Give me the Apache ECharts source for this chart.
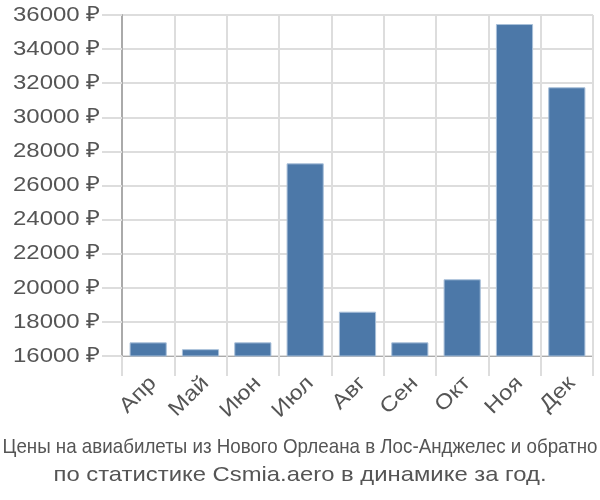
<!DOCTYPE html>
<html><head><meta charset="utf-8">
<script src="https://cdn.jsdelivr.net/npm/echarts@6/dist/echarts.min.js"></script>
<style>html,body{margin:0;padding:0;background:#fff}#c{width:600px;height:500px}</style>
</head><body><div id="c"></div>
<script>
const categories = ['Апр','Май','Июн','Июл','Авг','Сен','Окт','Ноя','Дек'];
const prices = [16800, 16400, 16800, 27300, 18600, 16800, 20500, 35470, 31760];
const yMin = 16000, yMax = 36000, yStep = 2000;
const titleLine1 = 'Цены на авиабилеты из Нового Орлеана в Лос-Анджелес и обратно';
const titleLine2 = 'по статистике Csmia.aero в динамике за год.';

const FONT = '"Liberation Sans", Arial, sans-serif';
const F21 = '21px ' + FONT;
const ctx = document.createElement('canvas').getContext('2d');
ctx.font = F21;
const w = s => ctx.measureText(s).width;
const t1Scale = 595 / w(titleLine1);
const t2Scale = 493 / w(titleLine2);
const labScale = 87 / w('36000 ₽');
const fmt = v => v + ' ₽';

const chart = echarts.init(document.getElementById('c'), null, {renderer:'canvas'});
chart.setOption({
  animation: false,
  grid: {left: 122, right: 7, top: 15, bottom: 144, containLabel: false},
  xAxis: {
    type: 'category', data: categories,
    axisLine: {show: true, lineStyle: {color: '#aaa', width: 1}},
    axisTick: {show: true, length: 20, lineStyle: {color: '#ddd', width: 2}},
    splitLine: {show: true, lineStyle: {color: '#ddd', width: 2}},
    axisLabel: {show: false}
  },
  yAxis: {
    type: 'value', min: yMin, max: yMax, interval: yStep,
    axisLine: {show: true, lineStyle: {color: '#aaa', width: 2}},
    axisTick: {show: true, length: 20, lineStyle: {color: '#ddd', width: 2}},
    splitLine: {show: true, lineStyle: {color: '#ddd', width: 2}},
    axisLabel: {show: false}
  },
  series: [{
    type: 'bar', data: prices, barCategoryGap: '29%',
    itemStyle: {color: '#4c78a8', borderColor: '#a9c0da', borderWidth: 1}
  }]
});

const graphics = [];
for (let v = yMin; v <= yMax; v += yStep) {
  const py = chart.convertToPixel({yAxisIndex: 0}, v);
  graphics.push({type: 'text', x: 100, y: py, scaleX: labScale,
    style: {text: fmt(v), font: F21, fill: '#555', align: 'right', verticalAlign: 'middle'}});
}
categories.forEach((c, i) => {
  const px = chart.convertToPixel({xAxisIndex: 0}, c);
  graphics.push({type: 'text', x: px + 5, y: 380, scaleX: labScale, rotation: Math.PI / 4,
    style: {text: c, font: F21, fill: '#555', align: 'right', verticalAlign: 'middle'}});
});
graphics.push(
  {type: 'text', x: 300, y: 447, scaleX: t1Scale,
    style: {text: titleLine1, font: F21, fill: '#555', align: 'center', verticalAlign: 'middle'}},
  {type: 'text', x: 300, y: 475, scaleX: t2Scale,
    style: {text: titleLine2, font: F21, fill: '#555', align: 'center', verticalAlign: 'middle'}}
);
chart.setOption({graphic: graphics});
</script></body></html>
